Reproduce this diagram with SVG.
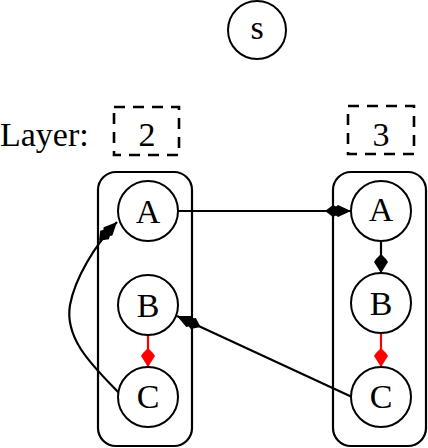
<svg xmlns="http://www.w3.org/2000/svg" width="428" height="448" viewBox="0 0 428 448">
<style>
.n circle{fill:#fff;stroke:#000;stroke-width:2}
text{font-family:"Liberation Serif","Times New Roman",serif;font-size:34px;fill:#000}
.c{text-anchor:middle}
.cl{fill:none;stroke:#000;stroke-width:2.2}
.lb{fill:none;stroke:#000;stroke-width:2.6;stroke-dasharray:11,8}
.e{fill:none;stroke:#000;stroke-width:2.2}
.r{stroke:#f00}
</style>
<defs>
<marker id="ah" markerUnits="userSpaceOnUse" orient="auto" markerWidth="30" markerHeight="16" refX="0" refY="0" viewBox="-27 -8 30 16" overflow="visible">
<path d="M0,0 L-13,-6 L-15,-4.5 L-18,-6 L-26,0 L-18,6 L-15,4.5 L-13,6 Z" fill="#000"/>
</marker>
<marker id="ahs" markerUnits="userSpaceOnUse" orient="auto" markerWidth="22" markerHeight="16" refX="0" refY="0" viewBox="-20 -8 22 16" overflow="visible">
<path d="M0,0 L-11,-7 L-14,-5 L-19,0 L-14,5 L-11,7 Z" fill="#000"/>
</marker>
<marker id="ahr" markerUnits="userSpaceOnUse" orient="auto" markerWidth="22" markerHeight="16" refX="0" refY="0" viewBox="-20 -8 22 16" overflow="visible">
<path d="M0,0 L-11,-7 L-14,-5 L-19,0 L-14,5 L-11,7 Z" fill="#f00"/>
</marker>
</defs>
<g id="clusters">
<rect class="cl" x="98" y="172" width="94" height="274" rx="18"/>
<rect class="cl" x="333" y="172" width="93" height="274" rx="18"/>
</g>
<g id="layer-label"><text x="0" y="146">Layer:</text></g>
<g id="layer2"><rect class="lb" x="114" y="107" width="65" height="48"/><text class="c" x="147" y="146">2</text></g>
<g id="layer3"><rect class="lb" x="348" y="106" width="66" height="48"/><text class="c" x="381" y="146">3</text></g>
<g id="connectors">
<path class="e" d="M178,211 L351,211" marker-end="url(#ah)"/>
<path class="e" d="M381,241 L381,273" marker-end="url(#ahs)"/>
<path class="e r" d="M148,335 L148,367" marker-end="url(#ahr)"/>
<path class="e r" d="M381,333 L381,367" marker-end="url(#ahr)"/>
<path class="e" d="M352,397 L177,316" marker-end="url(#ah)"/>
<path class="e" d="M119,393 C95,368 64,340 70,305 C75,278 95,245 117,222" marker-end="url(#ah)"/>
</g>
<g id="s" class="n"><circle cx="257" cy="30" r="29"/><text class="c" x="257" y="39">s</text></g>
<g id="A2" class="n"><circle cx="148" cy="211" r="30"/><text class="c" x="148" y="223">A</text></g>
<g id="B2" class="n"><circle cx="148" cy="305" r="30"/><text class="c" x="148" y="317">B</text></g>
<g id="C2" class="n"><circle cx="148" cy="397" r="30"/><text class="c" x="148" y="408">C</text></g>
<g id="A3" class="n"><circle cx="381" cy="211" r="30"/><text class="c" x="381" y="221">A</text></g>
<g id="B3" class="n"><circle cx="381" cy="303" r="30"/><text class="c" x="381" y="315">B</text></g>
<g id="C3" class="n"><circle cx="381" cy="397" r="30"/><text class="c" x="381" y="408">C</text></g>
</svg>
